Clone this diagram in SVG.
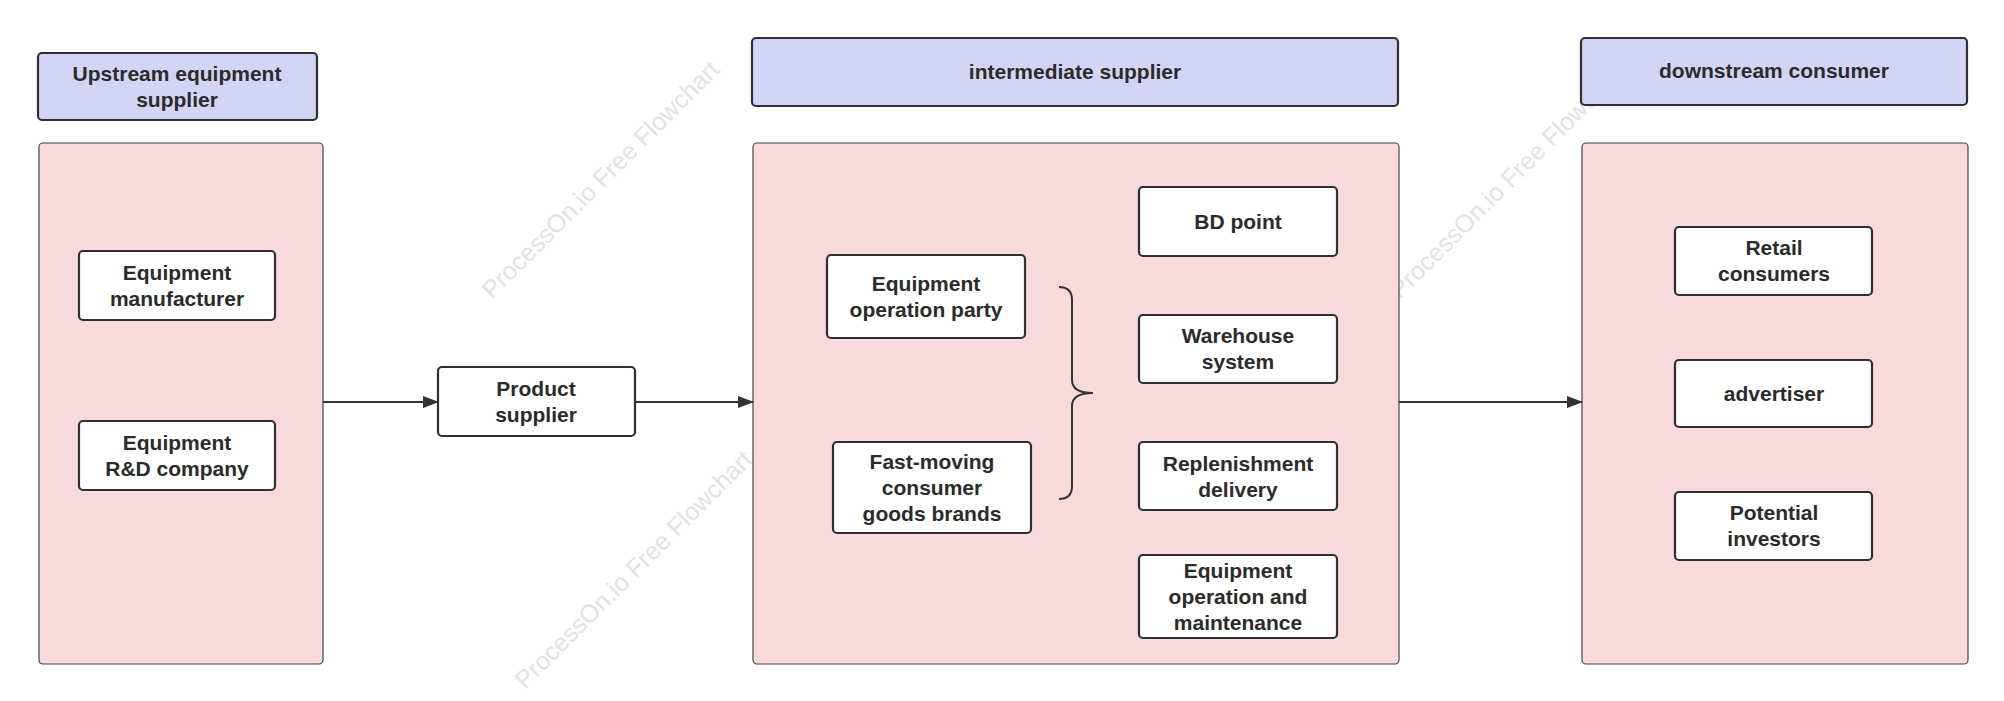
<svg xmlns="http://www.w3.org/2000/svg" width="2004" height="701" viewBox="0 0 2004 701">
<style>
.wm{font-family:"Liberation Sans",Arial,sans-serif;font-size:25px;fill:#e2e2e2}
.hdr{fill:#d3d5f7;stroke:#2e2e33;stroke-width:2.2}
.pan{fill:#f8dada;stroke:#444;stroke-width:1.2}
.box{fill:#fff;stroke:#2e2e33;stroke-width:2.2}
text.t{font-family:"Liberation Sans",Arial,sans-serif;font-size:21px;font-weight:bold;fill:#2b2b2b;text-anchor:middle}
.c{stroke:#333;stroke-width:2;fill:none}
</style>
<defs><marker id="ah" markerWidth="16" markerHeight="12" refX="15" refY="6" orient="auto" markerUnits="userSpaceOnUse"><path d="M0,0 L16,6 L0,12 Z" fill="#333"/></marker></defs>
<g id="watermarks">
<text class="wm" transform="translate(492,300) rotate(-45)">ProcessOn.io Free Flowchart</text>
<text class="wm" transform="translate(1400,300) rotate(-45)">ProcessOn.io Free Flowchart</text>
<text class="wm" transform="translate(525,690) rotate(-45)">ProcessOn.io Free Flowchart</text>
</g>
<g id="upstream-header"><rect class="hdr" x="38" y="53" width="279" height="67" rx="4"/><text class="t" x="177" y="81">Upstream equipment</text><text class="t" x="177" y="107">supplier</text></g>
<g id="upstream-panel"><rect class="pan" x="39" y="143" width="284" height="521" rx="4"/></g>
<g id="mid-header"><rect class="hdr" x="752" y="38" width="646" height="68" rx="4"/><text class="t" x="1075" y="79">intermediate supplier</text></g>
<g id="mid-panel"><rect class="pan" x="753" y="143" width="646" height="521" rx="4"/></g>
<g id="down-header"><rect class="hdr" x="1581" y="38" width="386" height="67" rx="4"/><text class="t" x="1774" y="78">downstream consumer</text></g>
<g id="down-panel"><rect class="pan" x="1582" y="143" width="386" height="521" rx="4"/></g>
<g id="n-manufacturer"><rect class="box" x="79" y="251" width="196" height="69" rx="4"/><text class="t" x="177" y="280">Equipment</text><text class="t" x="177" y="306">manufacturer</text></g>
<g id="n-rd"><rect class="box" x="79" y="421" width="196" height="69" rx="4"/><text class="t" x="177" y="450">Equipment</text><text class="t" x="177" y="476">R&amp;D company</text></g>
<g id="n-product"><rect class="box" x="438" y="367" width="197" height="69" rx="4"/><text class="t" x="536" y="396">Product</text><text class="t" x="536" y="422">supplier</text></g>
<g id="n-opparty"><rect class="box" x="827" y="255" width="198" height="83" rx="4"/><text class="t" x="926" y="291">Equipment</text><text class="t" x="926" y="317">operation party</text></g>
<g id="n-fmcg"><rect class="box" x="833" y="442" width="198" height="91" rx="4"/><text class="t" x="932" y="469">Fast-moving</text><text class="t" x="932" y="495">consumer</text><text class="t" x="932" y="521">goods brands</text></g>
<g id="n-bd"><rect class="box" x="1139" y="187" width="198" height="69" rx="4"/><text class="t" x="1238" y="229">BD point</text></g>
<g id="n-warehouse"><rect class="box" x="1139" y="315" width="198" height="68" rx="4"/><text class="t" x="1238" y="343">Warehouse</text><text class="t" x="1238" y="369">system</text></g>
<g id="n-replen"><rect class="box" x="1139" y="442" width="198" height="68" rx="4"/><text class="t" x="1238" y="471">Replenishment</text><text class="t" x="1238" y="497">delivery</text></g>
<g id="n-om"><rect class="box" x="1139" y="555" width="198" height="83" rx="4"/><text class="t" x="1238" y="578">Equipment</text><text class="t" x="1238" y="604">operation and</text><text class="t" x="1238" y="630">maintenance</text></g>
<g id="n-retail"><rect class="box" x="1675" y="227" width="197" height="68" rx="4"/><text class="t" x="1774" y="255">Retail</text><text class="t" x="1774" y="281">consumers</text></g>
<g id="n-advertiser"><rect class="box" x="1675" y="360" width="197" height="67" rx="4"/><text class="t" x="1774" y="401">advertiser</text></g>
<g id="n-investors"><rect class="box" x="1675" y="492" width="197" height="68" rx="4"/><text class="t" x="1774" y="520">Potential</text><text class="t" x="1774" y="546">investors</text></g>
<g id="connectors">
<path class="c" d="M323,402 L438,402" marker-end="url(#ah)"/>
<path class="c" d="M635,402 L753,402" marker-end="url(#ah)"/>
<path class="c" d="M1399,402 L1582,402" marker-end="url(#ah)"/>
<path class="c" d="M1059,287 Q1072,287 1072,300 L1072,380 Q1072,393 1093,393 Q1072,393 1072,406 L1072,486 Q1072,499 1059,499"/>
</g>
</svg>
